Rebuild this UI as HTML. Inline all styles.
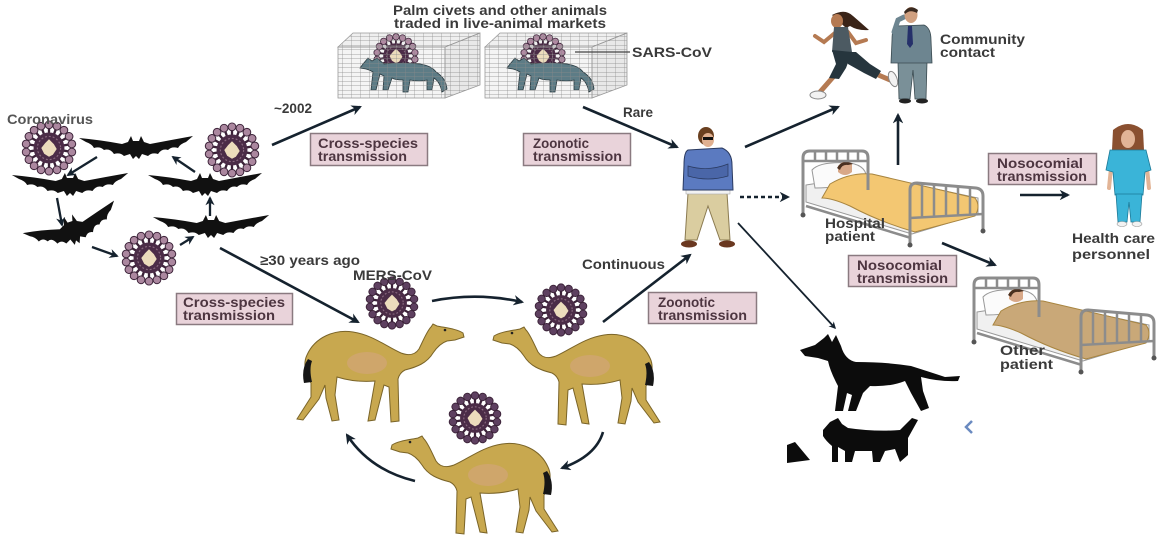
<!DOCTYPE html>
<html>
<head>
<meta charset="utf-8">
<style>
html,body{margin:0;padding:0;background:#fff;}
svg{display:block;}
text{font-family:"Liberation Sans",Arial,sans-serif;font-weight:bold;fill:#3a3a3a;}
.bx{fill:#4d3540;font-size:14px;}
.lb{font-size:14px;}
</style>
</head>
<body>
<svg width="1170" height="550" viewBox="0 0 1170 550" xmlns="http://www.w3.org/2000/svg">
<defs>
  <marker id="ah" viewBox="0 0 10 10" refX="8" refY="5" markerWidth="4" markerHeight="4" orient="auto" markerUnits="strokeWidth">
    <path d="M0,0 L10,5 L0,10 L3,5 z" fill="#15222e"/>
  </marker>
  <pattern id="grid" width="9" height="4.5" patternUnits="userSpaceOnUse">
    <path d="M0,0 H9 M0,0 V4.5" stroke="#8a8a8a" stroke-width="0.7" fill="none"/>
  </pattern>
  <g id="spk">
    <line x1="0" y1="-13" x2="0" y2="-21" stroke="#3b2238" stroke-width="2.4"/>
    <circle cx="0" cy="-24" r="4" fill="currentColor" stroke="#3b2238" stroke-width="1"/>
  </g>
  <symbol id="vir" viewBox="-30 -30 60 60" overflow="visible">
    <use href="#spk"/>
    <use href="#spk" transform="rotate(20)"/>
    <use href="#spk" transform="rotate(40)"/>
    <use href="#spk" transform="rotate(60)"/>
    <use href="#spk" transform="rotate(80)"/>
    <use href="#spk" transform="rotate(100)"/>
    <use href="#spk" transform="rotate(120)"/>
    <use href="#spk" transform="rotate(140)"/>
    <use href="#spk" transform="rotate(160)"/>
    <use href="#spk" transform="rotate(180)"/>
    <use href="#spk" transform="rotate(200)"/>
    <use href="#spk" transform="rotate(220)"/>
    <use href="#spk" transform="rotate(240)"/>
    <use href="#spk" transform="rotate(260)"/>
    <use href="#spk" transform="rotate(280)"/>
    <use href="#spk" transform="rotate(300)"/>
    <use href="#spk" transform="rotate(320)"/>
    <use href="#spk" transform="rotate(340)"/>
    <circle r="16" fill="#4b2c47"/>
    <circle r="12" fill="none" stroke="#8a6a80" stroke-width="1.2" stroke-dasharray="2 2"/>
    <path d="M0,-9 L5,-4 L8,1 L4,7 L0,9 L-5,6 L-8,0 L-4,-5 Z" fill="#ecdcbc"/>
  </symbol>
  <path id="bat" d="M-57,-8 Q-35,-6 -14,-2 L-8,-4 L-5,-10 L-3,-5 L3,-5 L5,-10 L8,-4 L14,-2 Q35,-6 57,-10 L50,-4 Q44,-2 42,2 Q36,0 32,4 Q26,2 22,8 Q16,6 12,10 L6,8 L3,13 L0,10 L-3,13 L-6,8 L-12,10 Q-16,6 -22,8 Q-26,2 -32,4 Q-36,0 -42,2 Q-44,-2 -50,-4 Z" fill="#111"/>
  <g id="camel">
    <path d="M12,32 C20,14 40,6 58,9 C78,12 92,24 106,30 C114,33 120,32 124,26 C128,18 132,8 136,4 L138,1 L142,3 C152,5 162,6 168,10 L169,14 L160,17 L152,18 C146,20 142,24 138,30 C132,40 122,44 110,47 C106,49 104,52 103,56 L104,98 L96,99 L94,64 L89,62 L80,97 L73,98 L80,58 C68,59 55,58 42,54 L40,72 L44,97 L37,98 L31,75 L30,62 L24,76 L8,97 L2,96 L16,74 L16,60 C10,52 8,40 12,32 Z" fill="#c8a84f" stroke="#7a6428" stroke-width="1"/>
    <ellipse cx="72" cy="40" rx="20" ry="11" fill="#d6a48e" opacity="0.45"/>
    <path d="M13,36 Q6,46 9,60 L17,59 Q14,46 17,38 Z" fill="#161616"/>
    <circle cx="150" cy="7" r="1.3" fill="#222"/>
  </g>
  <g id="cage">
    <polygon points="338,47 353,33 480,33 445,47" fill="#efefef"/>
    <rect x="338" y="47" width="107" height="51" fill="#f4f4f4"/>
    <polygon points="445,47 480,33 480,85 445,98" fill="#e8e8e8"/>
    <use href="#vir" x="372" y="32" width="48" height="48" color="#b08aa2"/>
    <path d="M363,64 L368,58 L372,61 L377,58 L384,64 Q400,62 420,64 Q432,66 436,72 Q446,78 447,89 L442,92 Q440,82 434,78 L432,90 L427,90 L427,80 Q420,82 410,80 L408,92 L403,92 L403,80 Q395,80 392,78 L388,90 L383,90 L384,76 L380,74 L376,90 L371,90 L373,72 Q370,70 366,69 L360,68 Z" fill="#5d7c86" stroke="#2a3a40" stroke-width="0.8"/>
    <polygon points="338,47 353,33 480,33 445,47" fill="url(#grid)" stroke="#999" stroke-width="0.8"/>
    <rect x="338" y="47" width="107" height="51" fill="url(#grid)" stroke="#999" stroke-width="0.8"/>
    <polygon points="445,47 480,33 480,85 445,98" fill="url(#grid)" stroke="#999" stroke-width="0.8"/>
  </g>
  <g id="bed">
    <path d="M806,185 L870,175 L978,198 L978,214 L912,234 L806,202 Z" fill="#f0f0f0" stroke="#999" stroke-width="1"/>
    <path d="M812,170 Q820,161 850,163 Q868,166 866,180 Q840,188 815,188 Z" fill="#fbfbfb" stroke="#999" stroke-width="1"/>
    <path d="M838,166 Q845,158 852,164 L852,172 Q845,178 838,172 Z" fill="#d8a888"/>
    <path d="M837,168 Q843,158 853,164 L848,165 Q842,164 840,170 Z" fill="#4a3020"/>
    <path d="M830,184 Q850,172 872,174 L975,198 Q981,206 975,216 L915,232 Q880,222 850,206 Q832,198 822,198 Z" fill="currentColor" stroke="#a88540" stroke-width="1"/>
    <path d="M803,213 L803,158 Q803,151 810,151 L862,151 Q868,151 868,158 L868,190" fill="none" stroke="#8c8c8c" stroke-width="3"/>
    <path d="M803,161 H868 M815,151 V161 M826,151 V161 M837,151 V161 M848,151 V161 M858,151 V161" stroke="#8c8c8c" stroke-width="2.5" fill="none"/>
    <path d="M806,206 L911,238" stroke="#8c8c8c" stroke-width="2.5"/>
    <path d="M910,243 L910,190 Q910,183 917,183 L976,188 Q983,189 983,196 L983,229" fill="none" stroke="#8c8c8c" stroke-width="3"/>
    <path d="M910,218 L983,214 M922,184 V218 M934,185 V217 M946,186 V217 M958,187 V216 M970,188 V215" stroke="#8c8c8c" stroke-width="2.5" fill="none"/>
    <circle cx="803" cy="215" r="2.5" fill="#555"/>
    <circle cx="910" cy="245" r="2.5" fill="#555"/>
    <circle cx="983" cy="231" r="2.5" fill="#555"/>
  </g>
</defs>

<rect width="1170" height="550" fill="#fff"/>

<!-- Bats & viruses cycle -->
<use href="#vir" x="20" y="119" width="58" height="58" color="#ab879f"/>
<use href="#vir" x="203" y="121" width="58" height="58" color="#ab879f"/>
<use href="#vir" x="120" y="229" width="58" height="58" color="#ab879f"/>
<use href="#bat" transform="translate(136,146)"/>
<use href="#bat" transform="translate(70,183) scale(1.02,1)"/>
<use href="#bat" transform="translate(72,228) rotate(-18) scale(0.85,1.3)"/>
<use href="#bat" transform="translate(205,183)"/>
<use href="#bat" transform="translate(211,225) scale(1.02,1)"/>
<g stroke="#15222e" stroke-width="2.3" fill="none" marker-end="url(#ah)">
  <line x1="97" y1="157" x2="68" y2="175"/>
  <line x1="57" y1="198" x2="62" y2="225"/>
  <line x1="92" y1="247" x2="117" y2="256"/>
  <line x1="180" y1="245" x2="193" y2="237"/>
  <line x1="210" y1="216" x2="210" y2="198"/>
  <line x1="195" y1="172" x2="173" y2="157"/>
</g>

<!-- Cages -->
<use href="#cage"/>
<use href="#cage" transform="translate(147,0)"/>
<line x1="575" y1="52" x2="630" y2="52" stroke="#444" stroke-width="1.2"/>

<!-- Main arrows -->
<g stroke="#15222e" stroke-width="2.6" fill="none" marker-end="url(#ah)">
  <line x1="272" y1="145" x2="360" y2="107"/>
  <line x1="583" y1="107" x2="677" y2="147"/>
  <line x1="745" y1="147" x2="838" y2="107"/>
  <line x1="898" y1="165" x2="898" y2="115"/>
  <line x1="740" y1="197" x2="788" y2="197" stroke-dasharray="4 3"/>
  <line x1="1020" y1="195" x2="1068" y2="195"/>
  <line x1="942" y1="243" x2="995" y2="265"/>
  <line x1="738" y1="223" x2="835" y2="328" stroke-width="1.8"/>
  <line x1="220" y1="248" x2="358" y2="322"/>
  <line x1="603" y1="322" x2="690" y2="255"/>
  <path d="M432,301 Q477,292 522,302"/>
  <path d="M603,432 Q596,456 562,468"/>
  <path d="M415,481 Q370,470 347,435"/>
</g>

<!-- MERS viruses -->
<use href="#vir" x="364" y="275" width="56" height="56" color="#5e4060"/>
<use href="#vir" x="533" y="282" width="56" height="56" color="#5e4060"/>
<use href="#vir" x="447" y="390" width="56" height="56" color="#5e4060"/>

<!-- Camels -->
<use href="#camel" transform="translate(295,323)"/>
<use href="#camel" transform="translate(662,326) scale(-1,1)"/>
<use href="#camel" transform="translate(560,435) scale(-1,1)"/>

<!-- Man (patient zero) -->
<path d="M688,193 L727,193 L730,240 L720,240 L708,206 L697,240 L685,240 Z" fill="#dacda0" stroke="#8a7a50" stroke-width="1"/>
<ellipse cx="689" cy="244" rx="8" ry="3.5" fill="#6a3820"/>
<ellipse cx="727" cy="244" rx="8" ry="3.5" fill="#6a3820"/>
<rect x="686" y="188" width="44" height="6" fill="#f2f2f2" stroke="#aaa" stroke-width="0.6"/>
<path d="M688,150 L722,148 Q732,152 732,165 L733,190 L683,190 L684,165 Q684,152 688,150 Z" fill="#5b7ac0" stroke="#2a3a60" stroke-width="1"/>
<path d="M688,166 Q708,172 728,164 L728,176 Q708,182 688,176 Z" fill="#4a66a8" stroke="#2a3a60" stroke-width="0.7"/>
<ellipse cx="706" cy="136" rx="8" ry="9" fill="#6a4020"/>
<ellipse cx="708" cy="140" rx="6" ry="7" fill="#e0b090"/>
<rect x="703" y="137" width="10" height="3" fill="#111"/>

<!-- Runner -->
<path d="M832,15 Q845,8 853,16 Q860,22 869,30 Q858,31 850,26 L846,28 Z" fill="#3a2418"/>
<ellipse cx="837" cy="21" rx="6" ry="7" fill="#b57a52"/>
<path d="M836,32 L824,42 L815,36" stroke="#b57a52" stroke-width="4" fill="none" stroke-linecap="round"/>
<path d="M848,32 L856,43 L866,40" stroke="#b57a52" stroke-width="4" fill="none" stroke-linecap="round"/>
<path d="M834,27 L848,27 L852,52 L832,52 Z" fill="#4c5a62"/>
<path d="M834,76 L820,92" stroke="#b57a52" stroke-width="5" stroke-linecap="round"/>
<path d="M876,74 L890,80" stroke="#b57a52" stroke-width="5" stroke-linecap="round"/>
<path d="M842,52 L856,52 L870,64 L881,71 L876,79 L864,73 L848,64 Z" fill="#26353d"/>
<path d="M832,50 L852,52 L846,68 L839,79 L829,78 L836,64 Z" fill="#26353d"/>
<ellipse cx="818" cy="95" rx="8" ry="4" fill="#f2f2f2" stroke="#888" stroke-width="1"/>
<ellipse cx="893" cy="79" rx="4" ry="8" fill="#f2f2f2" stroke="#888" stroke-width="1" transform="rotate(-20 893 79)"/>

<!-- Businessman -->
<path d="M898,62 L927,62 L926,99 L915,99 L913,70 L910,99 L899,99 Z" fill="#7a9098" stroke="#3a4a50" stroke-width="0.8"/>
<ellipse cx="905" cy="101" rx="6" ry="2.5" fill="#222"/>
<ellipse cx="922" cy="101" rx="6" ry="2.5" fill="#222"/>
<path d="M896,26 L924,25 Q931,28 931,40 L932,63 L891,63 L892,40 Q892,28 896,26 Z" fill="#6d8590" stroke="#3a4a50" stroke-width="0.8"/>
<path d="M908,26 L912,26 L913,44 L910,48 L907,44 Z" fill="#25306a"/>
<path d="M894,32 L898,20 L904,17" stroke="#6d8590" stroke-width="5" fill="none" stroke-linecap="round"/>
<ellipse cx="911" cy="15" rx="6.5" ry="8" fill="#d0a080"/>
<path d="M904,12 Q910,4 918,10 L917,13 Q910,9 905,14 Z" fill="#3a2a20"/>

<!-- Beds -->
<use href="#bed" color="#f3c772"/>
<use href="#bed" transform="translate(171,127)" color="#c9a878"/>

<!-- Nurse -->
<path d="M1113,130 Q1128,118 1143,130 L1144,150 L1112,150 Z" fill="#8a5030"/>
<ellipse cx="1128" cy="139" rx="7" ry="9" fill="#e2b496"/>
<path d="M1112,158 L1109,188 M1146,158 L1149,188" stroke="#e2b496" stroke-width="4" stroke-linecap="round"/>
<path d="M1110,150 L1146,150 L1151,170 L1145,172 L1143,195 L1115,195 L1113,172 L1106,170 Z" fill="#3ab4d8" stroke="#1c7a98" stroke-width="0.8"/>
<path d="M1116,194 L1142,194 L1140,222 L1131,222 L1129,202 L1127,222 L1118,222 Z" fill="#3ab4d8" stroke="#1c7a98" stroke-width="0.8"/>
<ellipse cx="1122" cy="224" rx="5" ry="2.5" fill="#f2f2f2" stroke="#999" stroke-width="0.6"/>
<ellipse cx="1137" cy="224" rx="5" ry="2.5" fill="#f2f2f2" stroke="#999" stroke-width="0.6"/>

<!-- Dogs -->
<path d="M800,350 L815,345 L824,338 L828,334 L832,342 L836,335 L841,346 Q845,360 856,362 Q886,362 911,366 Q930,372 945,377 L960,376 L958,381 Q940,382 921,377 L923,391 L929,408 L921,411 L911,393 L905,381 Q890,387 870,386 L863,393 L856,411 L848,411 L852,395 L847,393 L843,411 L835,411 L838,386 Q830,371 828,361 L818,358 L805,356 Z" fill="#0c0c0c"/>
<path d="M823,430 L830,422 L838,418 L842,424 L848,428 Q875,432 900,430 L912,418 L918,420 L908,438 L908,455 L900,462 L895,449 L885,451 L880,462 L873,462 L872,451 L855,451 L852,462 L845,462 L845,451 L838,447 L838,462 L832,462 L832,446 Q826,441 823,436 Z" fill="#0c0c0c"/>
<polygon points="787,445 795,442 810,460 787,463" fill="#0c0c0c"/>
<polyline points="972,421 966,427 972,433" fill="none" stroke="#6a8ac0" stroke-width="2.5"/>

<!-- Label boxes -->
<rect x="310.5" y="133.5" width="117" height="32" fill="#e9d3da" stroke="#8a7a80" stroke-width="1.5"/>
<text class="bx" x="318" y="148" textLength="100" lengthAdjust="spacingAndGlyphs">Cross-species</text>
<text class="bx" x="318" y="161" textLength="89" lengthAdjust="spacingAndGlyphs">transmission</text>

<rect x="523.5" y="133.5" width="107" height="32" fill="#e9d3da" stroke="#8a7a80" stroke-width="1.5"/>
<text class="bx" x="533" y="148" textLength="56" lengthAdjust="spacingAndGlyphs">Zoonotic</text>
<text class="bx" x="533" y="161" textLength="89" lengthAdjust="spacingAndGlyphs">transmission</text>

<rect x="988.5" y="153.5" width="108" height="31" fill="#e9d3da" stroke="#8a7a80" stroke-width="1.5"/>
<text class="bx" x="997" y="168" textLength="86" lengthAdjust="spacingAndGlyphs">Nosocomial</text>
<text class="bx" x="997" y="181" textLength="90" lengthAdjust="spacingAndGlyphs">transmission</text>

<rect x="848.5" y="255.5" width="108" height="31" fill="#e9d3da" stroke="#8a7a80" stroke-width="1.5"/>
<text class="bx" x="857" y="270" textLength="85" lengthAdjust="spacingAndGlyphs">Nosocomial</text>
<text class="bx" x="857" y="283" textLength="91" lengthAdjust="spacingAndGlyphs">transmission</text>

<rect x="176.5" y="293.5" width="116" height="31" fill="#e9d3da" stroke="#8a7a80" stroke-width="1.5"/>
<text class="bx" x="183" y="307" textLength="102" lengthAdjust="spacingAndGlyphs">Cross-species</text>
<text class="bx" x="183" y="320" textLength="92" lengthAdjust="spacingAndGlyphs">transmission</text>

<rect x="648.5" y="292.5" width="108" height="31" fill="#e9d3da" stroke="#8a7a80" stroke-width="1.5"/>
<text class="bx" x="658" y="307" textLength="57" lengthAdjust="spacingAndGlyphs">Zoonotic</text>
<text class="bx" x="658" y="320" textLength="89" lengthAdjust="spacingAndGlyphs">transmission</text>

<!-- Free labels -->
<text class="lb" x="393" y="15" textLength="214" lengthAdjust="spacingAndGlyphs" style="font-size:13.5px">Palm civets and other animals</text>
<text class="lb" x="394" y="28" textLength="212" lengthAdjust="spacingAndGlyphs" style="font-size:13.5px">traded in live-animal markets</text>
<text class="lb" x="7" y="124" textLength="86" lengthAdjust="spacingAndGlyphs" style="fill:#555">Coronavirus</text>
<text class="lb" x="274" y="113" textLength="38" lengthAdjust="spacingAndGlyphs">~2002</text>
<text class="lb" x="623" y="117" textLength="30" lengthAdjust="spacingAndGlyphs">Rare</text>
<text class="lb" x="632" y="57" textLength="80" lengthAdjust="spacingAndGlyphs">SARS-CoV</text>
<text class="lb" x="940" y="44" textLength="85" lengthAdjust="spacingAndGlyphs">Community</text>
<text class="lb" x="940" y="57" textLength="55" lengthAdjust="spacingAndGlyphs">contact</text>
<text class="lb" x="825" y="228" textLength="60" lengthAdjust="spacingAndGlyphs">Hospital</text>
<text class="lb" x="825" y="241" textLength="50" lengthAdjust="spacingAndGlyphs">patient</text>
<text class="lb" x="1072" y="243" textLength="83" lengthAdjust="spacingAndGlyphs">Health care</text>
<text class="lb" x="1072" y="259" textLength="78" lengthAdjust="spacingAndGlyphs">personnel</text>
<text class="lb" x="1000" y="355" textLength="45" lengthAdjust="spacingAndGlyphs">Other</text>
<text class="lb" x="1000" y="369" textLength="53" lengthAdjust="spacingAndGlyphs">patient</text>
<text class="lb" x="260" y="265" textLength="100" lengthAdjust="spacingAndGlyphs">≥30 years ago</text>
<text class="lb" x="353" y="280" textLength="79" lengthAdjust="spacingAndGlyphs">MERS-CoV</text>
<text class="lb" x="582" y="269" textLength="83" lengthAdjust="spacingAndGlyphs">Continuous</text>
</svg>
</body>
</html>
